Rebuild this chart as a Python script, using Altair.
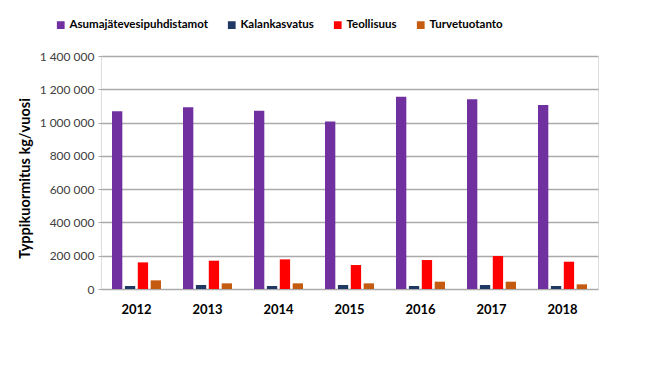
import altair as alt
import pandas as pd

years = ["2012", "2013", "2014", "2015", "2016", "2017", "2018"]
series = ["Asumajätevesipuhdistamot", "Kalankasvatus", "Teollisuus", "Turvetuotanto"]
colors = ["#7030a0", "#1f3864", "#ff0000", "#c55a11"]

asuma = [1068000, 1092000, 1071000, 1007000, 1155000, 1140000, 1105000]
kala = [18000, 24000, 18000, 24000, 18000, 24000, 18000]
teol = [160000, 170000, 178000, 144000, 174000, 198000, 164000]
turve = [52000, 34000, 34000, 34000, 44000, 44000, 28000]

rows = []
for name, vals in zip(series, [asuma, kala, teol, turve]):
    for y, v in zip(years, vals):
        rows.append({"Vuosi": y, "Sarja": name, "Arvo": v})
df = pd.DataFrame(rows)

FONT = "Lato, sans-serif"

chart = alt.Chart(df).mark_bar().encode(
    x=alt.X("Vuosi:N", sort=years,
            scale=alt.Scale(paddingInner=0.31, paddingOuter=0.155),
            axis=alt.Axis(title=None, labelAngle=0, labelFontWeight="bold",
                          labelFontSize=13, labelColor="#000000", labelFont=FONT,
                          labelPadding=14, ticks=False, domain=False)),
    xOffset=alt.XOffset("Sarja:N", sort=series,
                        scale=alt.Scale(paddingInner=0.2, paddingOuter=0)),
    y=alt.Y("Arvo:Q",
            scale=alt.Scale(domain=[0, 1400000], nice=False),
            axis=alt.Axis(title="Typpikuormitus kg/vuosi", titleFontWeight="bold",
                          titleFontSize=14.5, titleFont=FONT, titleColor="#000000",
                          titlePadding=7, titleY=122,
                          values=[0, 200000, 400000, 600000, 800000, 1000000, 1200000, 1400000],
                          labelExpr="replace(format(datum.value, ',d'), /,/g, ' ')",
                          labelFont=FONT, labelFontSize=12, labelColor="#404040",
                          labelPadding=4, tickSize=3, tickColor="#a6a6a6",
                          domain=False, gridColor="#aaaaaa", gridWidth=1.4)),
    color=alt.Color("Sarja:N", sort=series,
                    scale=alt.Scale(domain=series, range=colors),
                    legend=alt.Legend(title=None, orient="none", direction="horizontal",
                                      legendX=-46, legendY=-37,
                                      symbolType="square", symbolSize=60,
                                      symbolStrokeWidth=0,
                                      labelFont=FONT, labelFontWeight="bold",
                                      labelFontSize=11.5, labelColor="#000000",
                                      columnPadding=18, labelOffset=3)),
).properties(
    width=497, height=233,
    padding={"left": 9, "top": 11, "right": 5, "bottom": 5},
).configure_view(
    fill="#f2f2f2", stroke="#8c8c8c", strokeWidth=1.5
).configure(background="#ffffff")

chart.save("out.html", embed_options={"renderer": "svg", "actions": False})
